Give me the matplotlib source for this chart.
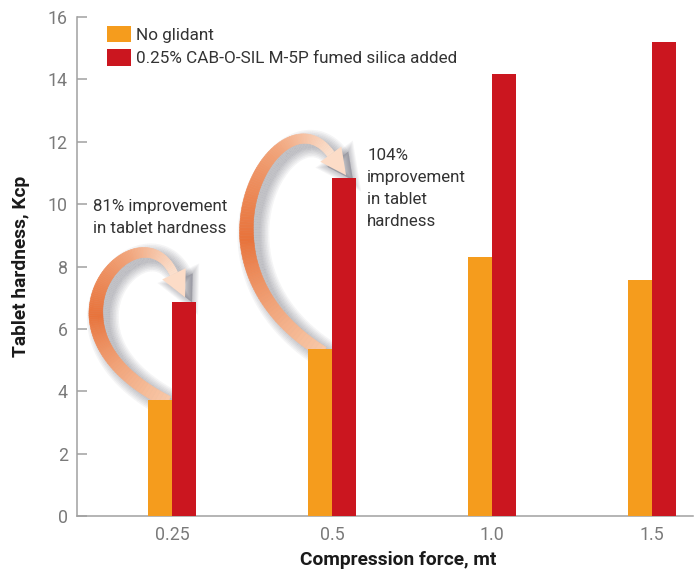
import numpy as np
import matplotlib
matplotlib.use("Agg")
import matplotlib.pyplot as plt
from matplotlib.collections import PolyCollection
from matplotlib.patches import Polygon
from matplotlib.colors import LinearSegmentedColormap

plt.rcParams['font.family'] = ['Roboto', 'DejaVu Sans']

# data
forces = ['0.25', '0.5', '1.0', '1.5']
no_glidant = [3.72, 5.34, 8.32, 7.57]
silica = [6.85, 10.83, 14.17, 15.19]
series_names = ['No glidant', '0.25% CAB-O-SIL M-5P fumed silica added']
notes = ['81% improvement\nin tablet hardness', '104%\nimprovement\nin tablet\nhardness']

ORANGE = '#f59c1d'
RED = '#cb161f'
TEXT = '#333333'
GREY = '#7a7a7a'
AXIS = '#a0a0a0'

fig = plt.figure(figsize=(6.97, 5.75), dpi=100)
ax = fig.add_axes([77 / 697, 1 - 516 / 575, 616 / 697, 499 / 575])

x = np.arange(len(forces))
w = 0.15
ax.bar(x - w / 2, no_glidant, w, color=ORANGE, label=series_names[0], zorder=3)
ax.bar(x + w / 2, silica, w, color=RED, label=series_names[1], zorder=3)

ax.set_xlim(-0.594, 3.256)
ax.set_ylim(0, 16)
ax.set_yticks(range(0, 17, 2))
ax.set_xticks(x)
ax.set_xticklabels(forces)

for s in ['top', 'right']:
    ax.spines[s].set_visible(False)
for s in ['left', 'bottom']:
    ax.spines[s].set_color(AXIS)
    ax.spines[s].set_linewidth(1.1)

ax.tick_params(axis='y', direction='in', length=7.2, width=1.1, color=AXIS,
               labelcolor=GREY, labelsize=12.8, pad=6.5)
ax.tick_params(axis='x', length=0, labelcolor=GREY, labelsize=12.8, pad=7)

ax.set_xlabel('Compression force, mt', fontsize=13.8, fontweight='bold',
              color='#1a1a1a')
ax.xaxis.set_label_coords(0.521, -0.071)
ax.set_ylabel('Tablet hardness, Kcp', fontsize=13.8, fontweight='bold',
              color='#1a1a1a', labelpad=13)

ax.legend(loc='upper left', bbox_to_anchor=(107 / 697, 1 - 26 / 575),
          bbox_transform=fig.transFigure, frameon=False, fontsize=12.3,
          handlelength=1.42, handleheight=1.1, handletextpad=0.3,
          labelspacing=0.36, borderpad=0, borderaxespad=0,
          labelcolor=TEXT)

# annotation text
ax.text(-0.494, 9.58, notes[0], ha='left', va='center', fontsize=12.2,
        color=TEXT, linespacing=1.58)
ax.text(1.219, 10.5, notes[1], ha='left', va='center', fontsize=12.2,
        color=TEXT, linespacing=1.58)

# curved gradient arrows (offsets in pixels, y pointing down)
arrow_cmap = LinearSegmentedColormap.from_list(
    'arr', [(0, '#f8c8a8'), (0.35, '#e8733b'), (0.7, '#f2a57b'), (1, '#fce0cd')])

arrow_shapes = [
    dict(i=0, p0=(20, 2), p1=(-128, -72), p2=(-8, -198), tip=(1, -5)),
    dict(i=1, p0=(15, 3), p1=(-135, -89), p2=(-27, -264), tip=(2, -3)),
]

to_px = ax.transData.transform
to_data = ax.transData.inverted().transform


def bez(P, t):
    t = t[:, None]
    return ((1 - t) ** 3 * P[0] + 3 * (1 - t) ** 2 * t * P[1]
            + 3 * (1 - t) * t ** 2 * P[2] + t ** 3 * P[3])


def strip(pts, widths):
    d = np.gradient(pts, axis=0)
    d /= np.linalg.norm(d, axis=1)[:, None]
    n = np.column_stack([-d[:, 1], d[:, 0]])
    left = pts + n * widths[:, None] / 2
    right = pts - n * widths[:, None] / 2
    quads = []
    for k in range(len(pts) - 1):
        q = np.array([left[k], left[k + 1], right[k + 1], right[k]])
        quads.append(to_data(q))
    return quads


for a in arrow_shapes:
    i = a['i']
    tail_anchor = to_px((x[i] - w, no_glidant[i]))
    head_anchor = to_px((x[i] + w / 2, silica[i]))
    off = lambda o, base: base + np.array([o[0], -o[1]])
    P0 = off(a['p0'], tail_anchor)
    P1 = off(a['p1'], tail_anchor)
    P2 = off(a['p2'], tail_anchor)
    tip = off(a['tip'], head_anchor)
    dvec = (tip - P2) / np.linalg.norm(tip - P2)
    head_len = 26
    P3 = tip - dvec * head_len
    P = [P0, P1, P2, P3]
    t = np.linspace(0, 1, 120)
    pts = bez(P, t)
    widths = np.interp(t, [0, 0.35, 1], [12, 14, 8])
    tmid = (t[:-1] + t[1:]) / 2
    nrm = np.array([-dvec[1], dvec[0]])
    head = np.array([tip, P3 + nrm * 13, P3 - nrm * 13])

    # soft shadow
    for k in range(7):
        sh = pts + np.array([7, -5])
        quads = strip(sh, widths + 3 * k)
        ax.add_collection(PolyCollection(quads, facecolor='#404050',
                                         edgecolor='none', alpha=0.05,
                                         zorder=1))
        ax.add_patch(Polygon(to_data(head + np.array([7, -5])), closed=True,
                             facecolor='#404050', edgecolor='#404050',
                             linewidth=1.5 * k, alpha=0.05, zorder=1))

    quads = strip(pts, widths)
    cols = arrow_cmap(tmid)
    ax.add_collection(PolyCollection(quads, facecolor=cols, edgecolor=cols,
                                     linewidth=0.4, zorder=2))
    ax.add_patch(Polygon(to_data(head), closed=True, facecolor='#fcdcc7',
                         edgecolor='none', zorder=2))

fig.savefig('out.png', dpi=100)
